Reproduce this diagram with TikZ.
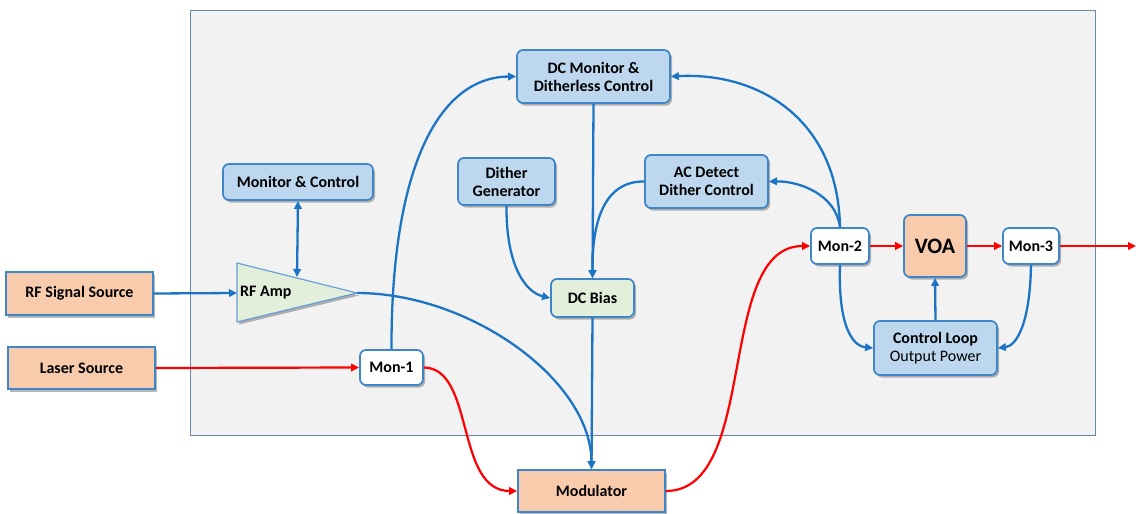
\documentclass[tikz,border=0pt]{standalone}
\usepackage{fontspec}
\setmainfont{Carlito}
\usetikzlibrary{arrows.meta,shadows}
\definecolor{bline}{HTML}{1B75C4}
\definecolor{bborder}{HTML}{3F86C9}
\definecolor{lblue}{HTML}{BDD7EE}
\definecolor{peach}{HTML}{F8CBAD}
\definecolor{lgreen}{HTML}{E2EFDA}
\definecolor{bgfill}{HTML}{F2F2F2}
\definecolor{bgedge}{HTML}{6A87A8}
\definecolor{rline}{HTML}{FF0000}
\tikzset{
  lbl/.style={font=\fontsize{16}{18}\selectfont\bfseries},
  base/.style={draw=bborder,line width=1.7pt,align=center,inner sep=1pt,lbl,
    drop shadow={shadow xshift=2pt,shadow yshift=-2.5pt,fill=black,opacity=0.28}},
  rbox/.style={base,rounded corners=6pt},
  sbox/.style={base},
  bconn/.style={draw=bline,line width=2.3pt,-{Triangle[length=8pt,width=7.5pt]}},
  bboth/.style={draw=bline,line width=2.3pt,{Triangle[length=8pt,width=7.5pt]}-{Triangle[length=8pt,width=7.5pt]}},
  rconn/.style={draw=rline,line width=2.2pt,-{Triangle[length=8pt,width=7.5pt]}},
}
\begin{document}
\begin{tikzpicture}[x=1pt,y=-1pt]
\useasboundingbox (0,0) rectangle (1136,514);
\draw[fill=bgfill,draw=bgedge,line width=0.9pt] (190,10) rectangle (1095,435);

% nodes
\node[sbox,fill=peach,minimum width=147pt,minimum height=43pt] (rfs) at (79.5,293.5) {RF Signal Source};
\node[sbox,fill=peach,minimum width=147pt,minimum height=42pt] (laser) at (81.5,368) {Laser Source};
\node[rbox,fill=lblue,minimum width=150pt,minimum height=36pt] (monc) at (298,182) {Monitor \& Control};
% RF amp triangle
\coordinate (ampw) at (237,293);
\coordinate (ampapex) at (357,293);
\coordinate (amptop) at (297,277);
\fill[black,opacity=0.28] (239,265.5) -- (359,295.5) -- (239,324.5) -- cycle;
\draw[fill=lgreen,draw=bborder!80,line width=1.2pt,line join=round] (237,263) -- (ampapex) -- (237,322) -- cycle;
\node[lbl,anchor=west,inner sep=0pt] (amp) at (240,293) {RF Amp};

\node[rbox,fill=white,minimum width=63pt,minimum height=35pt] (mon1) at (391.5,367.5) {Mon-1};
\node[sbox,fill=peach,minimum width=147pt,minimum height=42pt] (mod) at (591.5,491) {Modulator};
\node[rbox,fill=lblue,minimum width=153pt,minimum height=53pt] (dcm) at (593.5,76.5) {DC Monitor \&\\Ditherless Control};
\node[rbox,fill=lblue,minimum width=97pt,minimum height=47pt] (dg) at (506.5,181.5) {Dither\\Generator};
\node[rbox,fill=lblue,minimum width=123pt,minimum height=53pt] (ac) at (706.5,181.5) {AC Detect\\Dither Control};
\node[rbox,fill=lgreen,minimum width=83pt,minimum height=38pt] (dcb) at (592.5,298) {DC Bias};
\node[rbox,fill=white,minimum width=58pt,minimum height=36pt] (mon2) at (840,246) {Mon-2};
\node[rbox,fill=peach,minimum width=62pt,minimum height=62pt,font=\fontsize{22}{24}\selectfont\bfseries] (voa) at (935,246) {VOA};
\node[rbox,fill=white,minimum width=56pt,minimum height=36pt] (mon3) at (1031,246) {Mon-3};
\node[rbox,fill=lblue,minimum width=123pt,minimum height=54pt] (cl) at (935.5,348) {Control Loop\\\mdseries Output Power};
\coordinate (out) at (1136,246);

% connectors
\draw[bconn] (rfs.east) -- (ampw);
\draw[bboth] (monc.south) -- (amptop);
\draw[rconn] (laser.east) -- (mon1.west);
\draw[bconn] (mon1.north) .. controls (391,165) and (440,77) .. (dcm.west);
\draw[bconn] (ampapex) .. controls (470,293) and (591,380) .. (mod.north);
\draw[bconn] (dcm.south) -- (dcb.north);
\draw[bconn] (dg.south) .. controls (506,265) and (525,292) .. (dcb.west);
\draw[bconn] (ac.west) .. controls (605,181) and (592,220) .. (dcb.north);
\draw[bconn] (dcb.south) -- (mod.north);
\draw[rconn] (mon1.east) .. controls (475,368) and (455,491) .. (mod.west);
\draw[rconn] (mod.east) .. controls (760,491) and (715,246) .. (mon2.west);
\draw[bconn] (mon2.north) .. controls (838,120) and (760,72) .. (dcm.east);
\draw[bconn] (mon2.north) .. controls (836,195) and (800,181) .. (ac.east);
\draw[bconn] (mon2.south) .. controls (838,325) and (852,346) .. (cl.west);
\draw[bconn] (mon3.south) .. controls (1030,325) and (1016,346) .. (cl.east);
\draw[bconn] (cl.north) -- (voa.south);
\draw[rconn] (mon2.east) -- (voa.west);
\draw[rconn] (voa.east) -- (mon3.west);
\draw[rconn] (mon3.east) -- (out);
\end{tikzpicture}
\end{document}
